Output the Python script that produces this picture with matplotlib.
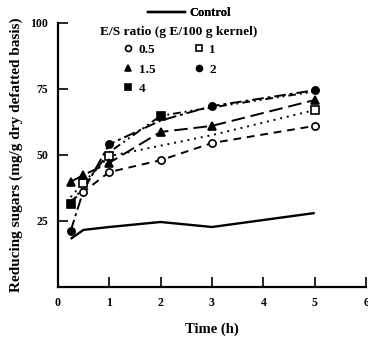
"""Reducing sugars released vs hydrolysis time at several E/S ratios."""
import matplotlib.pyplot as plt
from matplotlib.lines import Line2D

plt.rcParams["font.family"] = ["Liberation Serif", "DejaVu Serif"]
plt.rcParams["font.weight"] = "bold"

TIME = [0.25, 0.5, 1, 2, 3, 5]
CONTROL = [18.2, 21.6, 22.7, 24.6, 22.7, 28.0]
ES_05 = [32.5, 36.0, 43.5, 48.0, 54.5, 61.0]
ES_1 = [34.0, 39.5, 49.5, 53.5, 57.5, 67.0]
ES_15 = [39.8, 42.4, 47.0, 58.7, 61.0, 70.8]
ES_2 = [21.2, 36.5, 54.0, 63.0, 68.5, 74.5]
ES_4 = [31.5, 38.0, 51.0, 64.8, 68.0, 74.0]

XTICKS = [0, 1, 2, 3, 4, 5, 6]
YTICKS = [25, 50, 75, 100]


def main() -> None:
    fig = plt.figure(figsize=(3.68, 3.42), dpi=100)
    ax = fig.add_axes([0.157, 0.161, 0.838, 0.772])

    ax.plot(TIME, CONTROL, color="black", lw=1.7, solid_capstyle="butt")

    series = [
        (ES_4, "s", "black", (0, (4, 2, 1, 2, 1, 2)), "4", [0, 3]),
        (ES_2, "o", "black", (0, (6, 2, 1.5, 2)), "2", [0, 2, 4, 5]),
        (ES_1, "s", "white", (0, (1, 2.5)), "1", [1, 2, 5]),
        (ES_05, "o", "white", (0, (4, 3)), "0.5", [1, 2, 3, 4, 5]),
        (ES_15, "^", "black", (0, (7, 3)), "1.5", [0, 1, 2, 3, 4, 5]),
    ]
    handles = {}
    for vals, mk, fc, ls, lab, every in series:
        ax.plot(TIME, vals, color="black", lw=1.4, ls=ls, marker=mk, ms=5.2,
                mfc=fc, mec="black", mew=1.2, markevery=every)
        handles[lab] = Line2D([], [], ls="none", marker=mk, ms=4.3, mfc=fc,
                              mec="black", mew=1.2)

    ax.set_xlim(0, 6)
    ax.set_ylim(0, 100)
    ax.set_xticks(XTICKS, [str(t) for t in XTICKS])
    ax.set_yticks(YTICKS, [str(t) for t in YTICKS])
    ax.tick_params(direction="in", length=7, width=1.2, labelsize=8.5, pad=7)
    for side in ("top", "right"):
        ax.spines[side].set_visible(False)
    for side in ("left", "bottom"):
        ax.spines[side].set_linewidth(1.6)

    ax.set_xlabel("Time (h)", fontsize=10.5, fontweight="bold", labelpad=10)
    ax.set_ylabel("Reducing sugars (mg/g dry defatted basis)", fontsize=11,
                  fontweight="bold", labelpad=5)

    ctrl = fig.legend([Line2D([], [], color="black", lw=1.7)], ["Control"],
                      loc="center left", bbox_to_anchor=(0.402, 0.962),
                      frameon=False, fontsize=9, handlelength=3.0,
                      handletextpad=0.3, borderaxespad=0, borderpad=0)
    fig.text(0.272, 0.906, "E/S ratio (g E/100 g kernel)", fontsize=9.7,
             fontweight="bold", ha="left", va="center")
    order = ["0.5", "1.5", "4", "1", "2"]
    fig.legend([handles[k] for k in order], order, ncol=2,
               loc="upper left", bbox_to_anchor=(0.334, 0.872),
               frameon=False, fontsize=9.5, handlelength=0.8,
               handletextpad=0.4, columnspacing=2.9, labelspacing=0.55,
               borderaxespad=0, borderpad=0)
    fig.add_artist(ctrl)

    fig.savefig("out.png", dpi=100)
    plt.close(fig)


if __name__ == "__main__":
    main()
